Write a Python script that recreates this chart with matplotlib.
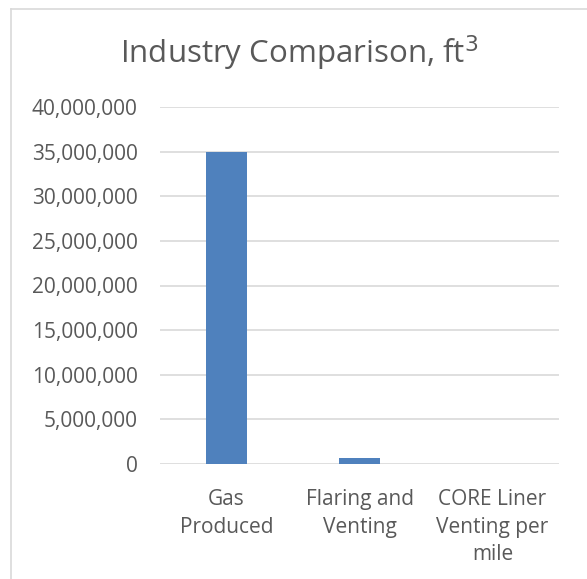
import matplotlib
matplotlib.use("Agg")
import matplotlib.pyplot as plt
from matplotlib.ticker import FuncFormatter, MultipleLocator
from matplotlib.lines import Line2D

categories = ["Gas\nProduced", "Flaring and\nVenting", "CORE Liner\nVenting per\nmile"]
volumes = [35_000_000, 650_000, 5_000]

plt.rcParams["font.family"] = ["Open Sans", "DejaVu Sans"]
text_color = "#595959"
grid_color = "#d9d9d9"

W, H = 587, 579
fig = plt.figure(figsize=(W / 100, H / 100), dpi=100)
ax = fig.add_axes([160 / W, 1 - 464 / H, 399 / W, 357 / H])

x = range(len(categories))
ax.bar(x, volumes, width=0.31, color="#4f81bd", zorder=3)

ax.set_xlim(-0.5, len(categories) - 0.5)
ax.set_ylim(0, 40_000_000)
ax.yaxis.set_major_locator(MultipleLocator(5_000_000))
ax.yaxis.set_major_formatter(FuncFormatter(lambda v, _: f"{int(v):,}"))
ax.grid(axis="y", color=grid_color, linewidth=1.2, zorder=0)
for s in ax.spines.values():
    s.set_visible(False)
ax.tick_params(axis="both", length=0, colors=text_color, labelsize=15)
ax.tick_params(axis="y", pad=16)
ax.tick_params(axis="x", pad=18)
ax.set_xticks(list(x))
ax.set_xticklabels(categories, linespacing=1.42)

fig.text(299 / W, 1 - 63 / H, "Industry Comparison, ft$^3$", ha="center",
         va="baseline", fontsize=22.5, color=text_color)

# chart area outline (left and top edges)
fig.add_artist(Line2D([11 / W, 11 / W], [0, 1 - 9 / H],
                      transform=fig.transFigure, color=grid_color, linewidth=1.2))
fig.add_artist(Line2D([11 / W, 1], [1 - 9 / H, 1 - 9 / H],
                      transform=fig.transFigure, color=grid_color, linewidth=1.2))

fig.savefig("out.png", dpi=100, facecolor="white")
